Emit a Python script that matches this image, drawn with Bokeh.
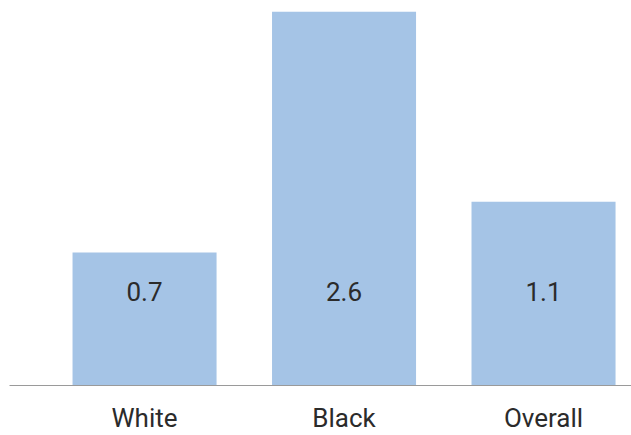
from bokeh.plotting import figure
from bokeh.models import ColumnDataSource, Range1d, FixedTicker, LabelSet
from bokeh.core.properties import value
from bokeh.embed import file_html
from bokeh.resources import INLINE

# Data
categories = ["White", "Black", "Overall"]
values = [0.7, 2.6, 1.1]
value_labels = ["0.7", "2.6", "1.1"]

# Axis floor of the original chart (bars start from it)
y_start = -0.35
y_end = 2.625

FONT = "Roboto"
BAR_COLOR = "#a5c4e6"
TEXT_COLOR = "#2b2b2b"

xs = list(range(len(categories)))
src = ColumnDataSource(dict(x=xs, top=values, label=value_labels,
                            bottom=[y_start] * len(values)))

p = figure(width=631, height=435, output_backend="svg", toolbar_location=None,
           x_range=Range1d(-0.677, 2.441), y_range=Range1d(y_start, y_end),
           min_border_left=9, min_border_right=0, min_border_top=8,
           min_border_bottom=49)

p.vbar(x="x", top="top", bottom="bottom", width=0.722, source=src,
       fill_color=BAR_COLOR, line_color=None)

# value labels inside the bars
p.add_layout(LabelSet(x="x", y="bottom", text="label", source=src,
                      text_align="center", text_baseline="middle", y_offset=94,
                      text_font=value(FONT), text_font_size="26px",
                      text_color=TEXT_COLOR))

p.yaxis.visible = False
p.xgrid.visible = False
p.ygrid.visible = False
p.outline_line_color = None
p.background_fill_color = "white"
p.border_fill_color = "white"

ax = p.xaxis[0]
ax.ticker = FixedTicker(ticks=xs)
ax.major_label_overrides = {i: c for i, c in enumerate(categories)}
ax.major_tick_line_color = None
ax.minor_tick_line_color = None
ax.major_tick_out = 0
ax.major_tick_in = 0
ax.minor_tick_out = 0
ax.minor_tick_in = 0
ax.major_label_standoff = 17
ax.major_label_text_font = FONT
ax.major_label_text_font_size = "26px"
ax.major_label_text_color = TEXT_COLOR
ax.axis_line_color = "#9a9a9a"
ax.axis_line_width = 1

open("out.html", "w").write(file_html(p, INLINE))
